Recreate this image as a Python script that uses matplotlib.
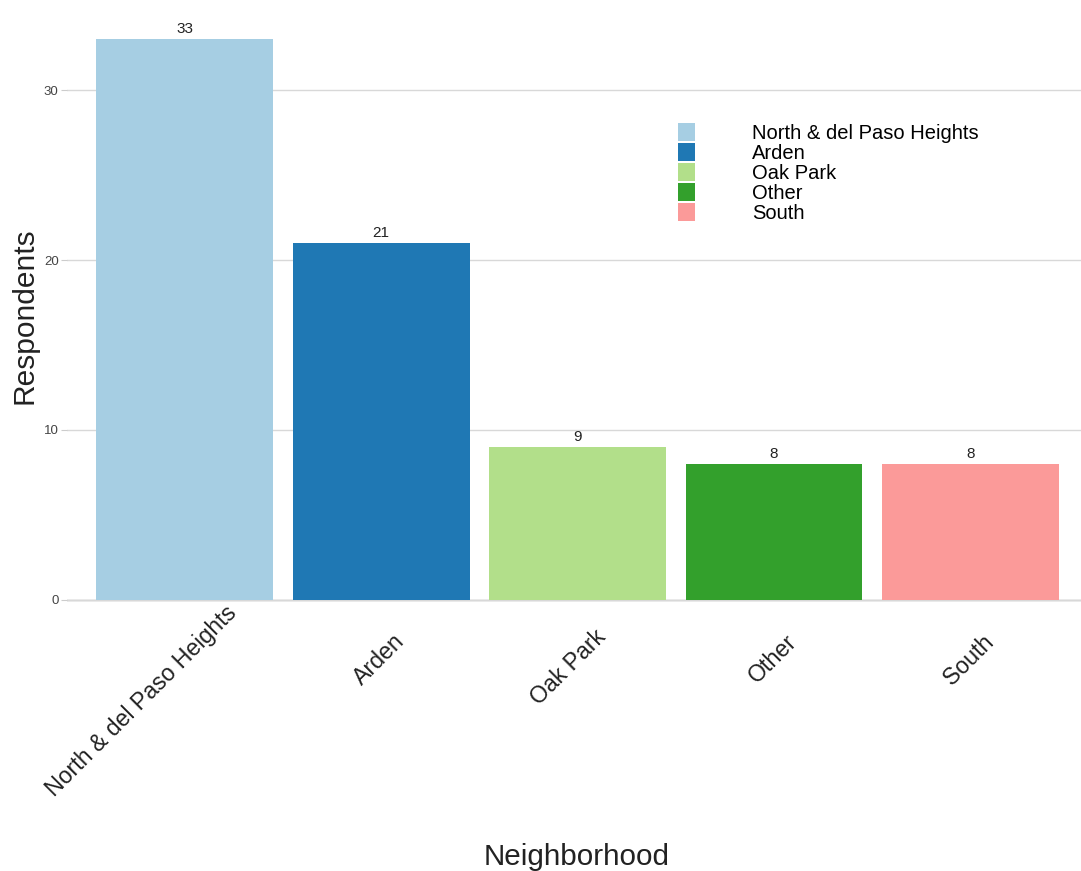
import matplotlib.pyplot as plt
from matplotlib.patches import Patch
from matplotlib.transforms import ScaledTranslation
from matplotlib.font_manager import FontProperties

# Data
neighborhoods = ['North & del Paso Heights', 'Arden', 'Oak Park', 'Other', 'South']
respondents = [33, 21, 9, 8, 8]
bar_colors = ['#A6CEE3', '#1F78B4', '#B2DF8A', '#33A02C', '#FB9A99']
y_ticks = [0, 10, 20, 30]

plt.rcParams['font.family'] = ['Liberation Sans', 'DejaVu Sans']

W, H = 1081, 871
fig = plt.figure(figsize=(W / 100, H / 100), dpi=100)
ax = fig.add_axes([67 / W, 1 - 628 / H, 1 - 67 / W, (628 - 11) / H])

x = list(range(1, len(neighborhoods) + 1))
ax.bar(x, respondents, width=0.9, color=bar_colors, zorder=2)

for xi, v in zip(x, respondents):
    ax.text(xi, v + 0.15, str(v), ha='center', va='bottom', fontsize=11, color='#222222')

ax.set_xlim(0.4, 5.564)
ax.set_ylim(-1.65, 34.65)
ax.set_yticks(y_ticks)
ax.set_yticklabels([str(t) for t in y_ticks], fontsize=9.5, color='#444444')
ax.set_xticks(x)
ax.set_xticklabels([])

ax.grid(axis='y', color='#d8d8d8', linewidth=1, zorder=0)
ax.axhline(0, color='#aaaaaa', linewidth=1, zorder=1)
for s in ax.spines.values():
    s.set_visible(False)
ax.tick_params(axis='y', length=4, color='#cccccc', pad=2)
ax.tick_params(axis='x', length=0)

# rotated category labels, placed like ggplot's angle=45 labels
fig.canvas.draw()
renderer = fig.canvas.get_renderer()
lab_prop = FontProperties(family=['Liberation Sans', 'DejaVu Sans'], size=16.7)
px = 1 / 100
for xi, lab in zip(x, neighborhoods):
    L, _, _ = renderer.get_text_width_height_descent(lab, lab_prop, ismath=False)
    dx = 2.5 + 0.146 * L
    dy = -(39 - 0.146 * L)
    tr = ax.transData + ScaledTranslation(dx * px, dy * px, fig.dpi_scale_trans)
    ax.text(xi, 0, lab, transform=tr, rotation=45, rotation_mode='anchor',
            ha='right', va='top', fontproperties=lab_prop, color='#222222',
            clip_on=False)

fig.text(577 / W, 6 / H, 'Neighborhood', ha='center', va='baseline',
         fontsize=21.3, color='#222222')
fig.text(25 / W, 1 - 316 / H, 'Respondents', ha='center', va='center',
         rotation=90, fontsize=21.5, color='#222222')

handles = [Patch(facecolor=c, edgecolor='none') for c in bar_colors]
fig.legend(handles, neighborhoods, loc='upper left',
           bbox_to_anchor=(678 / W, 1 - 123 / H), frameon=False,
           fontsize=14.5, labelspacing=0.0, handlelength=0.85, handleheight=1.0,
           handletextpad=2.83, borderpad=0, borderaxespad=0)

fig.savefig('out.png', dpi=100)
